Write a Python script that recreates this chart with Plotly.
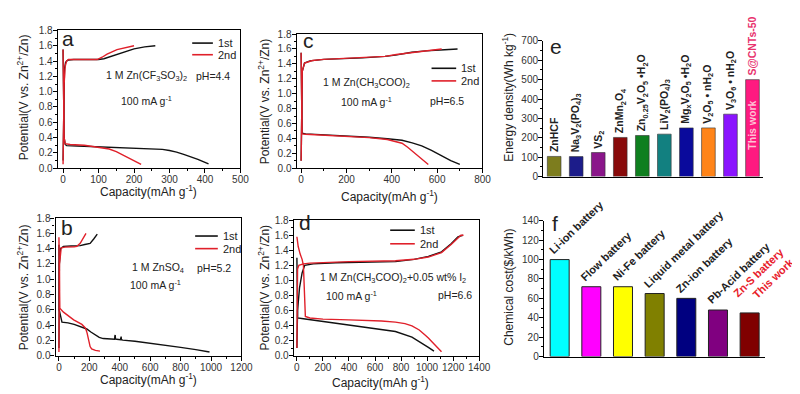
import plotly.graph_objects as go

W, H = 800, 394
FONT = "Liberation Sans, Arial, sans-serif"
BLACK = "#111111"
RED = "#e0202a"

# ---------------- data: panel a (1 M Zn(CF3SO3)2) ----------------
a1_dis_x = [0, 1, 3, 6, 10, 40, 100, 150, 200, 250, 280, 300, 320, 340, 360, 380, 395, 410]
a1_dis_y = [1.55, 1.0, 0.4, 0.31, 0.295, 0.29, 0.28, 0.275, 0.268, 0.258, 0.245, 0.23, 0.21, 0.18, 0.15, 0.115, 0.085, 0.055]
a1_ch_x = [0, 1, 2, 4, 7, 10, 15, 30, 60, 100, 115, 140, 170, 200, 230, 260]
a1_ch_y = [0.1, 0.5, 1.0, 1.3, 1.38, 1.4, 1.415, 1.42, 1.42, 1.42, 1.43, 1.47, 1.52, 1.56, 1.585, 1.6]
a2_dis_x = [0, 1, 3, 6, 20, 60, 100, 130, 150, 170, 190, 205, 220]
a2_dis_y = [1.55, 1.0, 0.4, 0.32, 0.31, 0.3, 0.275, 0.25, 0.215, 0.17, 0.12, 0.085, 0.05]
a2_ch_x = [0, 1, 3, 6, 10, 15, 40, 96, 110, 124, 152, 179, 200]
a2_ch_y = [0.05, 0.6, 1.1, 1.33, 1.4, 1.42, 1.42, 1.42, 1.45, 1.49, 1.55, 1.58, 1.6]

# ---------------- data: panel b (1 M ZnSO4) ----------------
b1_dis_x = [0, 2, 20, 60, 100, 150, 183, 210, 237, 265, 291, 330, 366, 368, 370, 372, 380,
            405, 407, 409, 411, 420, 500, 600, 700, 800, 900, 990]
b1_dis_y = [1.45, 0.6, 0.44, 0.43, 0.41, 0.38, 0.35, 0.31, 0.27, 0.24, 0.225, 0.22, 0.215, 0.26, 0.27, 0.22, 0.215,
            0.21, 0.245, 0.25, 0.21, 0.205, 0.19, 0.165, 0.14, 0.11, 0.08, 0.05]
b1_ch_x = [0, 3, 10, 30, 80, 140, 170, 205, 230, 252]
b1_ch_y = [0.1, 1.2, 1.4, 1.43, 1.435, 1.44, 1.455, 1.47, 1.53, 1.59]
b2_dis_x = [0, 3, 6, 30, 97, 151, 175, 185, 194, 205, 215, 240, 270]
b2_dis_y = [1.55, 0.9, 0.62, 0.57, 0.47, 0.41, 0.36, 0.3, 0.2, 0.12, 0.09, 0.07, 0.06]
b2_ch_x = [0, 4, 15, 40, 100, 118, 140, 160, 178]
b2_ch_y = [0.05, 1.2, 1.41, 1.42, 1.425, 1.43, 1.47, 1.53, 1.6]

# ---------------- data: panel c (1 M Zn(CH3COO)2) ----------------
c1_dis_x = [0, 2, 4, 20, 100, 200, 300, 380, 445, 490, 532, 575, 619, 660, 700]
c1_dis_y = [1.55, 0.8, 0.47, 0.46, 0.45, 0.435, 0.415, 0.395, 0.375, 0.34, 0.3, 0.24, 0.17, 0.1, 0.05]
c1_ch_x = [0, 2, 5, 15, 39, 100, 200, 271, 370, 416, 488, 550, 633, 690]
c1_ch_y = [0.1, 0.8, 1.3, 1.41, 1.44, 1.46, 1.47, 1.48, 1.5, 1.517, 1.556, 1.575, 1.59, 1.6]
c2_dis_x = [0, 2, 4, 20, 100, 200, 300, 380, 420, 445, 470, 500, 530, 561]
c2_dis_y = [1.55, 0.8, 0.46, 0.455, 0.445, 0.43, 0.41, 0.385, 0.36, 0.335, 0.28, 0.2, 0.12, 0.05]
c2_ch_x = [0, 2, 5, 15, 50, 100, 200, 300, 370, 420, 480, 550, 620]
c2_ch_y = [0.1, 0.8, 1.3, 1.41, 1.445, 1.46, 1.475, 1.49, 1.5, 1.525, 1.55, 1.575, 1.6]

# ---------------- data: panel d (1 M Zn(CH3COO)2 + 0.05 wt% I2) ----------------
d1_dis_x = [0, 2, 5, 50, 253, 400, 505, 650, 757, 884, 960, 1010, 1053]
d1_dis_y = [1.3, 0.8, 0.5, 0.49, 0.44, 0.405, 0.375, 0.345, 0.32, 0.245, 0.17, 0.11, 0.06]
d1_ch_x = [0, 2, 5, 20, 40, 60, 126, 300, 505, 757, 900, 1010, 1111, 1187, 1237, 1275]
d1_ch_y = [0.1, 0.4, 0.6, 0.9, 1.1, 1.2, 1.22, 1.235, 1.24, 1.25, 1.28, 1.32, 1.38, 1.49, 1.58, 1.6]
d2_dis_x = [0, 10, 25, 40, 50, 55, 58, 65, 100, 200, 400, 505, 650, 757, 830, 884, 940, 980, 1010, 1050, 1086, 1111]
d2_dis_y = [1.58, 1.45, 1.35, 1.28, 1.2, 0.9, 0.6, 0.52, 0.5, 0.485, 0.475, 0.47, 0.46, 0.445, 0.425, 0.395, 0.34, 0.28, 0.235, 0.16, 0.1, 0.05]
d2_ch_x = [0, 2, 5, 15, 50, 100, 400, 757, 900, 1010, 1111, 1187, 1240, 1260, 1280]
d2_ch_y = [0.1, 0.8, 1.15, 1.2, 1.22, 1.23, 1.25, 1.26, 1.28, 1.31, 1.37, 1.48, 1.57, 1.6, 1.6]

# ---------------- data: panel e (energy density) ----------------
e_labels = ["ZnHCF", "Na<sub>3</sub>V<sub>2</sub>(PO<sub>4</sub>)<sub>3</sub>", "VS<sub>2</sub>",
            "ZnMn<sub>2</sub>O<sub>4</sub>", "Zn<sub>0.25</sub>V<sub>2</sub>O<sub>5</sub> •H<sub>2</sub>O",
            "LiV<sub>2</sub>(PO<sub>4</sub>)<sub>3</sub>", "Mg<sub>x</sub>V<sub>2</sub>O<sub>5</sub> •H<sub>2</sub>O",
            "V<sub>2</sub>O<sub>5</sub> • nH<sub>2</sub>O", "V<sub>3</sub>O<sub>6</sub> • nH<sub>2</sub>O", "S@CNTs-50"]
e_values = [104, 103, 124, 202, 212, 219, 251, 251, 322, 500]
e_colors = ["#7d7d1e", "#1c1c8a", "#8a168a", "#880a0a", "#0f7f1f", "#128080",
            "#0a0a9c", "#ff8418", "#8a14ff", "#ff1a80"]

# ---------------- data: panel f (chemical cost) ----------------
f_labels = ["Li-ion battery", "Flow battery", "Ni-Fe battery", "Liquid metal battery",
            "Zn-ion battery", "Pb-Acid battery", "Zn-S battery<br>This work"]
f_values = [100, 72, 72, 65, 60, 48, 45]
f_colors = ["#00ffff", "#ff00ff", "#ffff00", "#808000", "#000080", "#800080", "#800000"]


def px(xp, yp):
    return xp / W, 1 - yp / H


def dom_x(a, b):
    return [a / W, b / W]


def dom_y(top, bot):
    return [1 - bot / H, 1 - top / H]


fig = go.Figure()

panels = [
    ("", [(a1_ch_x, a1_ch_y, BLACK), (a1_dis_x, a1_dis_y, BLACK), (a2_ch_x, a2_ch_y, RED), (a2_dis_x, a2_dis_y, RED)]),
    ("2", [(c1_ch_x, c1_ch_y, BLACK), (c1_dis_x, c1_dis_y, BLACK), (c2_ch_x, c2_ch_y, RED), (c2_dis_x, c2_dis_y, RED)]),
    ("4", [(b1_ch_x, b1_ch_y, BLACK), (b1_dis_x, b1_dis_y, BLACK), (b2_ch_x, b2_ch_y, RED), (b2_dis_x, b2_dis_y, RED)]),
    ("5", [(d1_ch_x, d1_ch_y, BLACK), (d1_dis_x, d1_dis_y, BLACK), (d2_ch_x, d2_ch_y, RED), (d2_dis_x, d2_dis_y, RED)]),
]
for suf, curves in panels:
    for xs, ys, col in curves:
        fig.add_trace(go.Scatter(x=xs, y=ys, mode="lines", line=dict(color=col, width=1.4),
                                 xaxis="x" + suf, yaxis="y" + suf, showlegend=False, hoverinfo="skip"))

fig.add_trace(go.Bar(x=list(range(len(e_values))), y=e_values, marker=dict(color=e_colors, line=dict(color="#333", width=0.6)),
                     width=0.62, xaxis="x3", yaxis="y3", showlegend=False))
fig.add_trace(go.Bar(x=list(range(len(f_values))), y=f_values, marker=dict(color=f_colors, line=dict(color="#222", width=1)),
                     width=0.6, xaxis="x6", yaxis="y6", showlegend=False))

tickfont = dict(family=FONT, size=10, color="#333")
COMMON = dict(showline=True, linecolor="black", linewidth=1.2, ticks="outside", ticklen=4, tickcolor="black",
              showgrid=False, zeroline=False, tickfont=tickfont, tickangle=0, ticklabelstandoff=-2)


def xax(domain, rng, dtick, minor, anchor):
    return dict(domain=domain, range=rng, dtick=dtick, tick0=0, anchor=anchor, mirror=True,
                minor=dict(dtick=minor, tick0=0, ticks="outside", ticklen=2, tickcolor="black"), **COMMON)


def yax(domain, anchor):
    return dict(domain=domain, range=[0, 1.8], dtick=0.2, tick0=0, tickformat=".1f", anchor=anchor, mirror=True,
                minor=dict(dtick=0.1, tick0=0, ticks="outside", ticklen=2, tickcolor="black"), **COMMON)


def bar_x(domain, n, anchor):
    return dict(domain=domain, range=[-0.5, n - 0.5], anchor=anchor, showline=True, linecolor="black", linewidth=1.2,
                showticklabels=False, ticks="", showgrid=False, zeroline=False)


def bar_y(domain, rng, dtick, minor, anchor):
    return dict(domain=domain, range=rng, dtick=dtick, anchor=anchor,
                minor=dict(dtick=minor, ticks="outside", ticklen=2, tickcolor="black"), **COMMON)


fig.update_layout(
    width=W, height=H, margin=dict(l=0, r=0, t=0, b=0),
    paper_bgcolor="white", plot_bgcolor="white", showlegend=False,
    font=dict(family=FONT, size=11, color="#222"),
    xaxis=xax(dom_x(50.5, 236), [-15, 500], 100, 50, "y"),
    yaxis=yax(dom_y(17, 159), "x"),
    xaxis2=xax(dom_x(293, 481.7), [-20, 800], 200, 100, "y2"),
    yaxis2=yax(dom_y(20.7, 159), "x2"),
    xaxis4=xax(dom_x(48.3, 237), [-22, 1200], 200, 100, "y4"),
    yaxis4=yax(dom_y(210.5, 352.5), "x4"),
    xaxis5=xax(dom_x(290, 478.3), [-25, 1400], 200, 100, "y5"),
    yaxis5=yax(dom_y(212.7, 352.3), "x5"),
    xaxis3=bar_x(dom_x(543.3, 767), len(e_values), "y3"),
    yaxis3=bar_y(dom_y(27.7, 167.7), [0, 700], 100, 50, "x3"),
    xaxis6=bar_x(dom_x(544, 769), len(f_values), "y6"),
    yaxis6=bar_y(dom_y(213.3, 353.3), [0, 140], 20, 10, "x6"),
)

ann = []
shapes = []


def txt(text, xp, yp, size=10.5, angle=0, xanchor="center", yanchor="middle", color="#222"):
    x, y = px(xp, yp)
    ann.append(dict(text=text, x=x, y=y, xref="paper", yref="paper", showarrow=False, textangle=angle,
                    xanchor=xanchor, yanchor=yanchor, font=dict(family=FONT, size=size, color=color)))


def legend(x0, x1, y1, y2, xt):
    for yy, col, lab in [(y1, BLACK, "1st"), (y2, RED, "2nd")]:
        a, b = px(x0, yy)
        c, _ = px(x1, yy)
        shapes.append(dict(type="line", xref="paper", yref="paper", x0=a, x1=c, y0=b, y1=b,
                           line=dict(color=col, width=1.6)))
        txt(lab, xt, yy, size=11, xanchor="left")


YT = "Potential(V vs. Zn<sup>2+</sup>/Zn)"
XT = "Capacity(mAh g<sup>-1</sup>)"

# panel a
txt("a", 53, 25, size=21, xanchor="left")
txt("1 M Zn(CF<sub>3</sub>SO<sub>3</sub>)<sub>2</sub>", 141, 64)
txt("pH=4.4", 208, 64)
txt("100 mA g<sup>-1</sup>", 141, 89)
legend(187, 208, 30, 42, 211)
txt(YT, 16, 86, size=12, angle=-90)
txt(XT, 143, 183, size=12)

# panel c
txt("c", 297, 27, size=21, xanchor="left")
txt("1 M Zn(CH<sub>3</sub>COO)<sub>2</sub>", 364, 71)
txt("100 mA g<sup>-1</sup>", 364, 90)
txt("pH=6.5", 446, 90)
legend(430, 455, 56, 69, 458)
txt(YT, 260, 90, size=12, angle=-90)
txt(XT, 387, 188, size=12)

# panel b
txt("b", 52, 220, size=21, xanchor="left")
txt("1 M ZnSO<sub>4</sub>", 152, 262)
txt("pH=5.2", 209, 262)
txt("100 mA g<sup>-1</sup>", 150, 279)
legend(190, 213, 229, 242, 216)
txt(YT, 16, 282, size=12, angle=-90)
txt(XT, 143, 376, size=12)

# panel d
txt("d", 293.5, 215, size=21, xanchor="left")
txt("1 M Zn(CH<sub>3</sub>COO)<sub>2</sub>+0.05 wt% I<sub>2</sub>", 391, 272)
txt("100 mA g<sup>-1</sup>", 349, 290)
txt("pH=6.6", 454, 290)
legend(388, 413, 223, 237, 416)
txt(YT, 260, 282, size=12, angle=-90)
txt(XT, 378, 380, size=12)

# panel e
txt("e", 548, 34, size=21, xanchor="left")
txt("Energy density(Wh kg<sup>-1</sup>)", 508, 86, size=12, angle=-90)
for i, (lab, v) in enumerate(zip(e_labels, e_values)):
    col = "#e8336e" if i == len(e_values) - 1 else "#222"
    ann.append(dict(text="<b>%s</b>" % lab, x=i, y=v, xref="x3", yref="y3", showarrow=False, textangle=-90,
                    xanchor="center", yanchor="bottom", yshift=2, font=dict(family=FONT, size=10.5, color=col)))
ann.append(dict(text="<b>This work</b>", x=len(e_values) - 1, y=e_values[-1] * 0.53, xref="x3", yref="y3",
                showarrow=False, textangle=-90, font=dict(family=FONT, size=10.5, color="#ffc0d4")))

# panel f
txt("f", 550, 216, size=21, xanchor="left")
txt("Chemical cost($/kWh)", 509, 282, size=12, angle=-90)
for i, (lab, v) in enumerate(zip(f_labels, f_values)):
    last = i == len(f_values) - 1
    ann.append(dict(text="<b>%s</b>" % lab, x=i - (0.66 if last else 0.5), y=v, xref="x6", yref="y6",
                    showarrow=False, textangle=-44, xanchor="left", yanchor="bottom", yshift=1,
                    align="right", font=dict(family=FONT, size=11, color="#e8202a" if last else "#222")))

fig.update_layout(annotations=ann, shapes=shapes)
fig.write_html("out.html")
